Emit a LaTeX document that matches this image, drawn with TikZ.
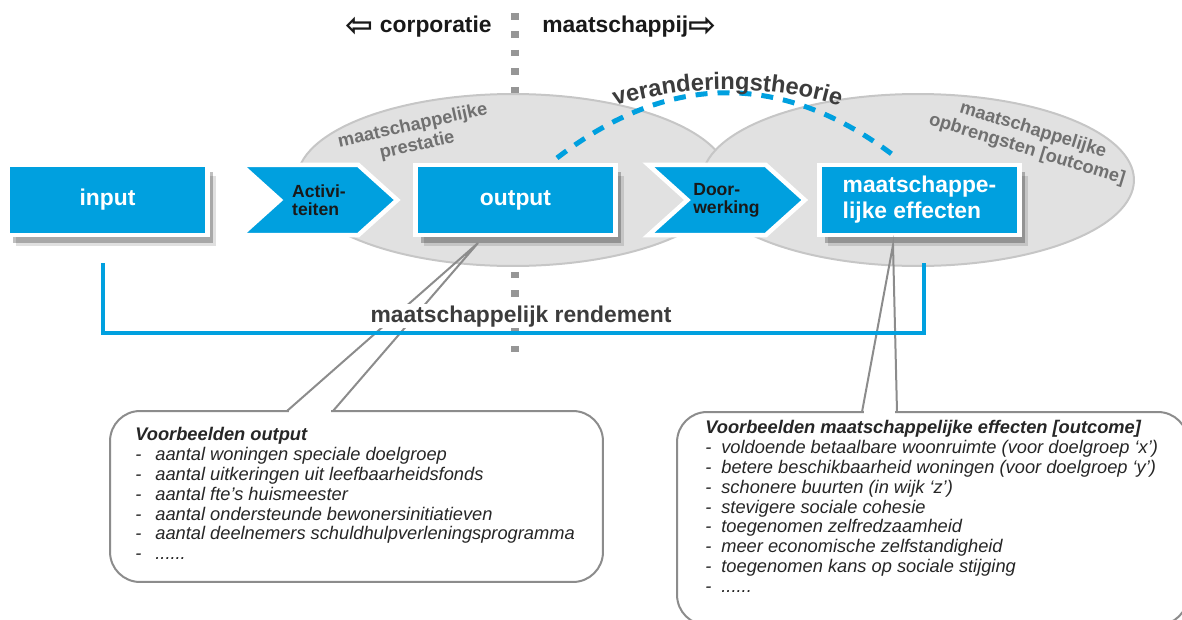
\documentclass[tikz,border=0pt]{standalone}
\usepackage{fontspec}
\setmainfont{Liberation Sans}
\newfontfamily\arrowfont{DejaVu Sans}
\usetikzlibrary{shapes.symbols, shadows, decorations.text}

\definecolor{flowblue}{RGB}{0,160,223}
\definecolor{zonefill}{RGB}{225,225,225}
\definecolor{zoneline}{RGB}{198,198,198}
\definecolor{zonetext}{RGB}{112,112,112}
\definecolor{dividergray}{RGB}{150,150,150}
\definecolor{calloutgray}{RGB}{140,140,140}
\definecolor{darktext}{RGB}{60,60,60}

\newcommand\theoryfont{\bfseries\fontsize{13.5}{16}\selectfont}
\newcommand\itm[2][0.4cm]{\makebox[#1][l]{-}#2}
\newcommand\bigarrow[1]{\raisebox{-2.6pt}{\arrowfont\fontsize{19}{19}\selectfont #1}}

\begin{document}
\begin{tikzpicture}[x=0.02cm, y=-0.02cm,
    flowbox/.style={rectangle, fill=flowblue, draw=white, line width=0.09cm,
        minimum width=4cm, minimum height=1.41cm, text=white,
        font=\bfseries\fontsize{13}{14.7}\selectfont,
        drop shadow={shadow xshift=0.17cm, shadow yshift=-0.22cm, fill=black, opacity=0.12},
        drop shadow={shadow xshift=0.11cm, shadow yshift=-0.15cm, fill=black, opacity=0.25}},
    chevron/.style={shape=signal, signal from=west, signal to=east, signal pointer angle=84,
        fill=flowblue, draw=white, line width=0.09cm, minimum width=3.13cm, minimum height=1.41cm,
        align=left, text=black!90, font=\bfseries\fontsize{10}{10.2}\selectfont},
    zone/.style={fill=zonefill, draw=zoneline, line width=0.04cm},
    zonelabel/.style={align=center, text=zonetext, font=\bfseries\fontsize{10.4}{11.6}\selectfont},
    toplabel/.style={inner sep=0pt, text=black!90, font=\bfseries\fontsize{13}{15}\selectfont},
    divider/.style={draw=dividergray, line width=0.16cm, dash pattern=on 0.13cm off 0.24cm},
    theory/.style={draw=flowblue, line width=0.1cm, dash pattern=on 0.24cm off 0.2cm},
    rendement/.style={draw=flowblue, line width=0.08cm},
    rendlabel/.style={fill=white, inner sep=0.03cm, text=darktext, font=\bfseries\fontsize{13}{15}\selectfont},
    calloutbox/.style={rectangle, draw=calloutgray, line width=0.04cm, fill=white,
        rounded corners=0.6cm},
    calloutline/.style={draw=calloutgray, line width=0.04cm},
    listtext/.style={align=left, inner sep=0pt, text=black!85, font=\itshape\fontsize{10.4}{11.3}\selectfont}]

    \path[use as bounding box, clip] (0,0) rectangle (1182,619);

    % corporatie | maatschappij
    \coordinate (divtop) at (515,13);
    \coordinate (divbot) at (515,354);
    \draw[divider] (divtop) -- (divbot);
    \node[toplabel, anchor=base east] (corp) at (492,32) {\bigarrow{⇦}\ corporatie};
    \node[toplabel, anchor=base west] (maat) at (542,32) {maatschappij\bigarrow{⇨}};

    % zones
    \path[zone] (513,180) ellipse [x radius=4.32cm, y radius=1.72cm];
    \path[zone] (918,180) ellipse [x radius=4.32cm, y radius=1.72cm];
    \node[zonelabel, rotate=12.5] (prestatie) at (415,136) {maatschappelijke\\prestatie};
    \node[zonelabel, rotate=-17] (opbrengst) at (1030,140) {maatschappelijke\\opbrengsten [outcome]};

    % veranderingstheorie
    \coordinate (arcL) at (557,158);
    \coordinate (arcR) at (897,158);
    \draw[theory] (arcL) .. controls (670,71) and (784,71) .. (arcR);
    \path[decorate, decoration={text along path, text align=center, text color=darktext,
        text={|\theoryfont|veranderingstheorie}}]
        (603,110) .. controls (680,83) and (775,83) .. (852,110);

    % chain
    \node[flowbox] (input) at (107.5,200) {input};
    \node[chevron] (acti) at (319,200) {Activi-\\teiten};
    \node[flowbox] (output) at (515.5,200) {output};
    \node[chevron] (door) at (726.5,200) {Door-\\werking};
    \node[flowbox, align=left] (effect) at (919.5,200) {maatschappe-\\lijke effecten};

    % voorbeelden
    \node[calloutbox, minimum width=9.86cm, minimum height=3.42cm] (outbox) at (356.5,496.5) {};
    \coordinate (outtip) at (478,243);
    \coordinate (outgapL) at (287,411);
    \coordinate (outgapR) at (333,411);
    \fill[white] (289,408) rectangle (331,414);
    \draw[calloutline] (outgapL) -- (outtip) -- (outgapR);
    \node[listtext, anchor=north west] (outlist) at (135,427) {\textbf{Voorbeelden output}\\
        \itm{aantal woningen speciale doelgroep}\\
        \itm{aantal uitkeringen uit leefbaarheidsfonds}\\
        \itm{aantal fte’s huismeester}\\
        \itm{aantal ondersteunde bewonersinitiatieven}\\
        \itm{aantal deelnemers schuldhulpverleningsprogramma}\\
        \itm{......}};

    \node[calloutbox, minimum width=10.22cm, minimum height=4.26cm] (effbox) at (932.5,518.5) {};
    \coordinate (efftip) at (893,245);
    \coordinate (effgapL) at (862,412);
    \coordinate (effgapR) at (897,412);
    \fill[white] (864,409) rectangle (895,415);
    \draw[calloutline] (effgapL) -- (efftip) -- (effgapR);
    \node[listtext, anchor=north west] (efflist) at (705,420) {\textbf{Voorbeelden maatschappelijke effecten [outcome]}\\
        \itm[0.32cm]{voldoende betaalbare woonruimte (voor doelgroep ‘x’)}\\
        \itm[0.32cm]{betere beschikbaarheid woningen (voor doelgroep ‘y’)}\\
        \itm[0.32cm]{schonere buurten (in wijk ‘z’)}\\
        \itm[0.32cm]{stevigere sociale cohesie}\\
        \itm[0.32cm]{toegenomen zelfredzaamheid}\\
        \itm[0.32cm]{meer economische zelfstandigheid}\\
        \itm[0.32cm]{toegenomen kans op sociale stijging}\\
        \itm[0.32cm]{......}};

    % maatschappelijk rendement
    \coordinate (rendL) at (103,263);
    \coordinate (rendBL) at (103,333);
    \coordinate (rendR) at (924,263);
    \draw[rendement] (rendL) -- (rendBL) -| (rendR);
    \node[rendlabel, anchor=base] (rendtext) at (521,322) {maatschappelijk rendement};

\end{tikzpicture}
\end{document}
